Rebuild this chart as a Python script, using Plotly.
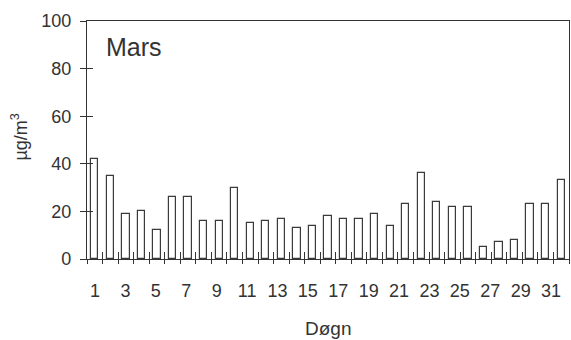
import plotly.graph_objects as go

days = list(range(1, 32))
values = [42, 35, 19, 20, 12, 26, 26, 16, 16, 30, 15, 16, 17, 13, 14,
          18, 17, 17, 19, 14, 23, 36, 24, 22, 22, 5, 7, 8, 23, 23, 33]
label_days = list(range(1, 32, 2))
tick_labels = [str(d) for d in label_days]
y_ticks = [0, 20, 40, 60, 80, 100]
month = "Mars"

FONT = "Liberation Sans, Arial, Helvetica, sans-serif"
INK = "#333333"

fig = go.Figure()
fig.add_trace(go.Bar(
    x=days, y=values, width=0.47,
    marker=dict(color="white", line=dict(color="#3a3a3a", width=1.2)),
    showlegend=False, hoverinfo="x+y",
))
# invisible traces to carry the overlay axes (crossing ticks, label row)
fig.add_trace(go.Scatter(x=[days[0]], y=[0], xaxis="x2", yaxis="y2",
                         mode="markers", marker=dict(opacity=0),
                         showlegend=False, hoverinfo="skip"))
fig.add_trace(go.Scatter(x=[days[0]], y=[0], xaxis="x3", yaxis="y2",
                         mode="markers", marker=dict(opacity=0),
                         showlegend=False, hoverinfo="skip"))

boundaries = [d - 0.5 for d in days] + [days[-1] + 0.5]
xr = [0.5, 31.5]
# the original's day labels sit on a slightly tighter pitch than the bars
label_range = [0.47, 32.18]

fig.update_layout(
    width=571, height=340,
    margin=dict(l=87, r=2, t=21, b=81, autoexpand=False),
    paper_bgcolor="white", plot_bgcolor="white",
    font=dict(family=FONT, size=18, color=INK),
    bargap=0,
    xaxis=dict(
        range=xr, autorange=False, tickmode="array",
        tickvals=label_days, showticklabels=False,
        ticks="", showgrid=False, zeroline=False, automargin=False,
        showline=True, linecolor=INK, linewidth=1.3, mirror=True,
        minor=dict(tickmode="array", tickvals=boundaries, ticks="outside",
                   ticklen=4, tickcolor=INK, tickwidth=1, showgrid=False),
    ),
    xaxis3=dict(
        overlaying="x", range=label_range, autorange=False,
        tickmode="array", tickvals=label_days, ticktext=tick_labels,
        ticks="", showgrid=False, zeroline=False, showline=False,
        automargin=False, side="bottom", ticklabelstandoff=19,
        tickfont=dict(size=18, color=INK, family=FONT),
    ),
    yaxis=dict(
        range=[0, 100], autorange=False, tickmode="array", tickvals=y_ticks,
        ticks="outside", ticklen=6, tickcolor=INK, tickwidth=1,
        showgrid=False, zeroline=False, automargin=False,
        showline=True, linecolor=INK, linewidth=1.3, mirror=True,
        ticklabelstandoff=5,
        tickfont=dict(size=18, color=INK, family=FONT),
    ),
    xaxis2=dict(
        overlaying="x", range=xr, autorange=False,
        tickmode="array", tickvals=boundaries, ticks="inside",
        ticklen=7, tickcolor=INK, tickwidth=1, automargin=False,
        showticklabels=False, showgrid=False, zeroline=False, showline=False,
        side="bottom",
    ),
    yaxis2=dict(
        overlaying="y", range=[0, 100], autorange=False, tickmode="array",
        tickvals=y_ticks, automargin=False,
        ticks="inside", ticklen=6, tickcolor=INK, tickwidth=1,
        showticklabels=False, showgrid=False, zeroline=False, showline=False,
        side="left",
    ),
    annotations=[
        dict(text=month, x=0.035, y=0.891, xref="paper", yref="paper",
             xanchor="left", yanchor="middle", showarrow=False,
             font=dict(size=25, color=INK, family=FONT)),
        dict(text="Døgn", x=0.5, y=-0.29, xref="paper", yref="paper",
             xanchor="center", yanchor="middle", showarrow=False,
             font=dict(size=19, color=INK, family=FONT)),
        dict(text="µg/m<sup>3</sup>", x=-0.139, y=0.51, xref="paper", yref="paper",
             xanchor="center", yanchor="middle", showarrow=False, textangle=-90,
             font=dict(size=18, color=INK, family=FONT)),
    ],
)

fig.write_html("out.html", config={"displayModeBar": False},
               post_script="document.body.style.margin='0';document.body.style.overflow='hidden';")
